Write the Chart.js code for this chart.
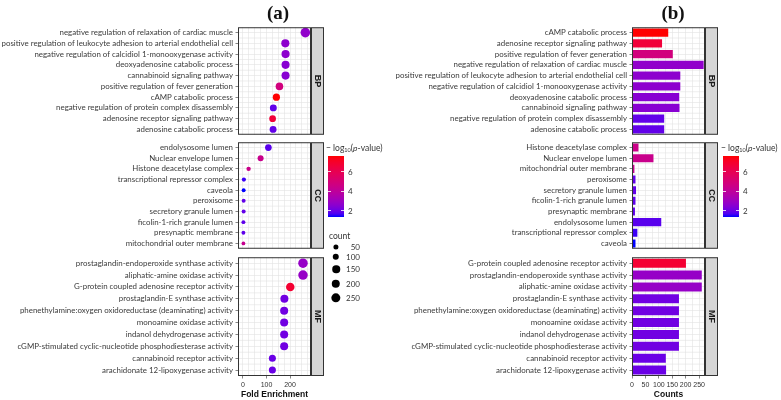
<!DOCTYPE html>
<html>
<head>
<meta charset="utf-8">
<script src="https://cdn.jsdelivr.net/npm/chart.js@4.4.1/dist/chart.umd.min.js"></script>
<style>
  body { margin: 0; background: #fff; }
  #wrap { position: relative; width: 781px; height: 400px; overflow: hidden;
          font-family: Lato, "Liberation Sans", Arial, sans-serif; color: #333; }
  canvas { position: absolute; }
  .txt { position: absolute; white-space: nowrap; z-index: 2; }
  .lab { font-size: 8px; transform: translateY(-50%); }
  .ttl { font-family: "Liberation Serif", serif; font-weight: bold; font-size: 19px; color: #111;
         transform: translate(-50%, -50%); }
  .bar { position: absolute; z-index: 2; }
  .dot { position: absolute; border-radius: 50%; background: #000; z-index: 2; transform: translate(-50%, -50%); }
  sub { font-size: 5.5px; vertical-align: -1px; }
</style>
</head>
<body>
<div id="wrap">
  <canvas id="aBP" width="324" height="122" style="left:0;top:20px"></canvas>
  <canvas id="aCC" width="324" height="121" style="left:0;top:135px"></canvas>
  <canvas id="aMF" width="324" height="150" style="left:0;top:250px"></canvas>
  <canvas id="bBP" width="362" height="122" style="left:356px;top:20px"></canvas>
  <canvas id="bCC" width="362" height="121" style="left:356px;top:135px"></canvas>
  <canvas id="bMF" width="362" height="150" style="left:356px;top:250px"></canvas>
</div>
<script>
// ---- data: terms in panel (b) order, with counts and -log10(p)
const bpTerms = [
  "cAMP catabolic process",
  "adenosine receptor signaling pathway",
  "positive regulation of fever generation",
  "negative regulation of relaxation of cardiac muscle",
  "positive regulation of leukocyte adhesion to arterial endothelial cell",
  "negative regulation of calcidiol 1-monooxygenase activity",
  "deoxyadenosine catabolic process",
  "cannabinoid signaling pathway",
  "negative regulation of protein complex disassembly",
  "adenosine catabolic process"
];
const bpCounts = [135, 112, 152, 267, 180, 180, 176, 177, 120, 120];
const bpLogP = [7.6, 6.6, 4.8, 2.7, 2.6, 2.6, 2.5, 2.5, 1.9, 1.9];

const ccTerms = [
  "Histone deacetylase complex",
  "Nuclear envelope lumen",
  "mitochondrial outer membrane",
  "peroxisome",
  "secretory granule lumen",
  "ficolin-1-rich granule lumen",
  "presynaptic membrane",
  "endolysosome lumen",
  "transcriptional repressor complex",
  "caveola"
];
const ccCounts = [24, 80, 9, 13, 15, 13, 11, 109, 20, 13];
const ccLogP = [4.5, 4.4, 4.3, 1.9, 1.9, 1.85, 1.85, 1.8, 1.55, 1.35];

const mfTerms = [
  "G-protein coupled adenosine receptor activity",
  "prostaglandin-endoperoxide synthase activity",
  "aliphatic-amine oxidase activity",
  "prostaglandin-E synthase activity",
  "phenethylamine:oxygen oxidoreductase (deaminating) activity",
  "monoamine oxidase activity",
  "indanol dehydrogenase activity",
  "cGMP-stimulated cyclic-nucleotide phosphodiesterase activity",
  "cannabinoid receptor activity",
  "arachidonate 12-lipoxygenase activity"
];
const mfCounts = [201, 260, 260, 175, 175, 175, 175, 175, 126, 127];
const mfLogP = [6.8, 2.8, 2.8, 2.1, 2.1, 2.1, 2.1, 2.1, 2.0, 2.0];

// ---- panel (a) order and fold enrichment
const bpTermsA = [
  "negative regulation of relaxation of cardiac muscle",
  "positive regulation of leukocyte adhesion to arterial endothelial cell",
  "negative regulation of calcidiol 1-monooxygenase activity",
  "deoxyadenosine catabolic process",
  "cannabinoid signaling pathway",
  "positive regulation of fever generation",
  "cAMP catabolic process",
  "negative regulation of protein complex disassembly",
  "adenosine receptor signaling pathway",
  "adenosine catabolic process"
];
const bpFoldA = [265, 180, 181, 181, 181, 155, 142, 129, 126, 128];

const ccTermsA = [
  "endolysosome lumen",
  "Nuclear envelope lumen",
  "Histone deacetylase complex",
  "transcriptional repressor complex",
  "caveola",
  "peroxisome",
  "secretory granule lumen",
  "ficolin-1-rich granule lumen",
  "presynaptic membrane",
  "mitochondrial outer membrane"
];
const ccFoldA = [108, 75, 24, 4, 3, 3, 3, 2, 2, 2];

const mfTermsA = [
  "prostaglandin-endoperoxide synthase activity",
  "aliphatic-amine oxidase activity",
  "G-protein coupled adenosine receptor activity",
  "prostaglandin-E synthase activity",
  "phenethylamine:oxygen oxidoreductase (deaminating) activity",
  "monoamine oxidase activity",
  "indanol dehydrogenase activity",
  "cGMP-stimulated cyclic-nucleotide phosphodiesterase activity",
  "cannabinoid receptor activity",
  "arachidonate 12-lipoxygenase activity"
];
const mfFoldA = [255, 255, 201, 176, 175, 175, 175, 175, 125, 125];

const foldTicks = [0, 100, 200];
const countTicks = [0, 50, 100, 150, 200, 250];
const pTicks = [2, 4, 6];
const sizeBreaks = [50, 100, 150, 200, 250];

// ---- scales for colour and size
const allLogP = [...bpLogP, ...ccLogP, ...mfLogP];
const allCounts = [...bpCounts, ...ccCounts, ...mfCounts];
const P_MIN = Math.min(...allLogP), P_MAX = Math.max(...allLogP);
const C_MIN = Math.min(...allCounts), C_MAX = Math.max(...allCounts);
const R_MIN = 1.9, R_MAX = 4.8;

function toLin(c) { c /= 255; return c <= 0.04045 ? c / 12.92 : Math.pow((c + 0.055) / 1.055, 2.4); }
function toSrgb(c) {
  c = c <= 0.0031308 ? 12.92 * c : 1.055 * Math.pow(Math.max(c, 0), 1 / 2.4) - 0.055;
  return Math.round(Math.max(0, Math.min(1, c)) * 255);
}
function rgbToLab(r, g, b) {
  const R = toLin(r), G = toLin(g), B = toLin(b);
  const X = (0.4124 * R + 0.3576 * G + 0.1805 * B) / 0.95047;
  const Y = 0.2126 * R + 0.7152 * G + 0.0722 * B;
  const Z = (0.0193 * R + 0.1192 * G + 0.9505 * B) / 1.08883;
  const f = t => t > 0.008856 ? Math.cbrt(t) : 7.787 * t + 16 / 116;
  const fx = f(X), fy = f(Y), fz = f(Z);
  return [116 * fy - 16, 500 * (fx - fy), 200 * (fy - fz)];
}
function labToRgb(L, a, b) {
  const fy = (L + 16) / 116, fx = fy + a / 500, fz = fy - b / 200;
  const inv = t => t * t * t > 0.008856 ? t * t * t : (t - 16 / 116) / 7.787;
  const X = inv(fx) * 0.95047, Y = inv(fy), Z = inv(fz) * 1.08883;
  const R = 3.2406 * X - 1.5372 * Y - 0.4986 * Z;
  const G = -0.9689 * X + 1.8758 * Y + 0.0415 * Z;
  const B = 0.0557 * X - 0.2040 * Y + 1.0570 * Z;
  return `rgb(${toSrgb(R)},${toSrgb(G)},${toSrgb(B)})`;
}
const LOW = rgbToLab(0, 0, 255), HIGH = rgbToLab(255, 0, 0);
function pColor(v) {
  const t = Math.max(0, Math.min(1, (v - P_MIN) / (P_MAX - P_MIN)));
  return labToRgb(LOW[0] + t * (HIGH[0] - LOW[0]), LOW[1] + t * (HIGH[1] - LOW[1]), LOW[2] + t * (HIGH[2] - LOW[2]));
}
function sizeR(c) {
  const t = Math.max(0, (c - C_MIN) / (C_MAX - C_MIN));
  return Math.sqrt(R_MIN * R_MIN + t * (R_MAX * R_MAX - R_MIN * R_MIN));
}

const lookup = {};
[[bpTerms, bpCounts, bpLogP], [ccTerms, ccCounts, ccLogP], [mfTerms, mfCounts, mfLogP]].forEach(([t, c, p]) => {
  t.forEach((name, i) => { lookup[name] = { count: c[i], logp: p[i] }; });
});

// size the term labels so the longest one spans the same width as in the figure
const FAMILY = "Lato, 'Liberation Sans', sans-serif";
function fitSize(text, target) {
  const c = document.createElement('canvas').getContext('2d');
  c.font = `10px ${FAMILY}`;
  return Math.round(10 * target / c.measureText(text).width * 10) / 10;
}
const labelSize = fitSize("positive regulation of leukocyte adhesion to arterial endothelial cell", 231);

// ---- shared styling
const GRID = '#e2e2e2';
const LABEL_FONT = { family: FAMILY, size: labelSize };
const NUM_FONT = { family: "'Liberation Sans', sans-serif", size: 7 };
const TITLE_FONT = { family: "'Liberation Sans', sans-serif", size: 8.5, weight: 'bold' };

// half-step grid lines, panel border and facet strip
const panelDeco = {
  id: 'panelDeco',
  beforeDatasetsDraw(chart) {
    const { ctx, chartArea: a } = chart;
    const ys = chart.scales.y;
    const n = ys.getLabels().length;
    ctx.save();
    ctx.strokeStyle = GRID;
    ctx.lineWidth = 0.6;
    for (let i = 1; i < n; i++) {
      const y = ys.getPixelForValue(i - 0.5);
      ctx.beginPath(); ctx.moveTo(a.left, y); ctx.lineTo(a.right, y); ctx.stroke();
    }
    ctx.restore();
  },
  afterDraw(chart, args, opts) {
    const { ctx, chartArea: a } = chart;
    const h = a.bottom - a.top;
    ctx.save();
    ctx.fillStyle = '#d6d6d6';
    ctx.fillRect(a.right, a.top, 13, h);
    ctx.strokeStyle = '#333';
    ctx.lineWidth = 1;
    ctx.strokeRect(a.left + 0.5, a.top + 0.5, a.right - a.left - 1, h - 1);
    ctx.strokeRect(a.right + 0.5, a.top + 0.5, 12, h - 1);
    ctx.translate(a.right + 6.5, a.top + h / 2);
    ctx.rotate(Math.PI / 2);
    ctx.fillStyle = '#1a1a1a';
    ctx.font = "bold 9px 'Liberation Sans', sans-serif";
    ctx.textAlign = 'center';
    ctx.textBaseline = 'middle';
    ctx.fillText(opts.strip, 0, 0);
    ctx.restore();
  }
};

function xScale(min, max, step, labelled, showX, title) {
  const grid = [];
  for (let v = 0; v <= max; v += step) grid.push(v);
  return {
    type: 'linear', min, max,
    afterBuildTicks: s => { s.ticks = grid.map(v => ({ value: v })); },
    afterFit: s => { s.height = showX ? 24 : 0; },
    ticks: {
      display: showX, autoSkip: false, maxRotation: 0, padding: 2,
      font: NUM_FONT, color: '#333',
      callback: v => labelled.includes(v) ? String(v) : ''
    },
    grid: {
      color: GRID, lineWidth: 0.6, drawTicks: showX, tickLength: 2.5,
      tickColor: c => (c.tick && labelled.includes(c.tick.value)) ? '#333' : 'rgba(0,0,0,0)'
    },
    border: { display: false },
    title: { display: showX, text: title, font: TITLE_FONT, color: '#111', padding: { top: 0, bottom: 0.6 } }
  };
}

function yScale(labels, width) {
  return {
    type: 'category', labels, offset: true,
    afterFit: s => { s.width = width; },
    ticks: { autoSkip: false, font: LABEL_FONT, color: '#3a3a3a', padding: 2.5 },
    grid: { color: GRID, lineWidth: 0.6, offset: false, tickLength: 2.5, tickColor: '#333' },
    border: { display: false }
  };
}

function baseOptions(strip, showX) {
  return {
    responsive: false, animation: false, events: [],
    layout: { padding: { top: 5, bottom: showX ? 0 : 5, left: 0, right: 13 } },
    plugins: { legend: { display: false }, tooltip: { enabled: false }, panelDeco: { strip } }
  };
}

function dotPanel(id, terms, folds, strip, showX) {
  const opts = baseOptions(strip, showX);
  opts.scales = {
    x: xScale(-21, 289, 25, foldTicks, showX, 'Fold Enrichment'),
    y: yScale(terms, 238)
  };
  new Chart(document.getElementById(id), {
    type: 'scatter',
    data: {
      datasets: [{
        data: terms.map((t, i) => ({ x: folds[i], y: t })),
        pointRadius: terms.map(t => sizeR(lookup[t].count)),
        backgroundColor: terms.map(t => pColor(lookup[t].logp)),
        borderWidth: 0
      }]
    },
    options: opts,
    plugins: [panelDeco]
  });
}

function barPanel(id, terms, counts, logp, strip, showX) {
  const opts = baseOptions(strip, showX);
  opts.indexAxis = 'y';
  opts.scales = {
    x: xScale(0, 272, 25, countTicks, showX, 'Counts'),
    y: yScale(terms, 276)
  };
  new Chart(document.getElementById(id), {
    type: 'bar',
    data: {
      labels: terms,
      datasets: [{
        data: counts,
        backgroundColor: logp.map(pColor),
        borderWidth: 0,
        barPercentage: 0.76,
        categoryPercentage: 1
      }]
    },
    options: opts,
    plugins: [panelDeco]
  });
}

dotPanel('aBP', bpTermsA, bpFoldA, 'BP', false);
dotPanel('aCC', ccTermsA, ccFoldA, 'CC', false);
dotPanel('aMF', mfTermsA, mfFoldA, 'MF', true);
barPanel('bBP', bpTerms, bpCounts, bpLogP, 'BP', false);
barPanel('bCC', ccTerms, ccCounts, ccLogP, 'CC', false);
barPanel('bMF', mfTerms, mfCounts, mfLogP, 'MF', true);

// ---- titles and legends (HTML)
const wrap = document.getElementById('wrap');
function add(cls, html, style) {
  const d = document.createElement('div');
  d.className = cls;
  d.innerHTML = html;
  Object.assign(d.style, style);
  wrap.appendChild(d);
  return d;
}
add('txt ttl', '(a)', { left: '278px', top: '13px' });
add('txt ttl', '(b)', { left: '673px', top: '13px' });

function colorLegend(x) {
  const top = 156, h = 61, w = 16;
  add('txt lab', '&minus; log<sub>10</sub>(<i>p</i>-value)', { left: (x - 2) + 'px', top: '148px', fontSize: '8.5px' });
  const stops = [];
  for (let i = 0; i <= 20; i++) stops.push(pColor(P_MIN + (P_MAX - P_MIN) * i / 20));
  add('bar', '', { left: x + 'px', top: top + 'px', width: w + 'px', height: h + 'px',
                   background: `linear-gradient(to top, ${stops.join(',')})` });
  pTicks.forEach(v => {
    const y = top + h - (v - P_MIN) / (P_MAX - P_MIN) * h;
    add('bar', '', { left: x + 'px', top: (y - 0.5) + 'px', width: '3px', height: '1px', background: 'rgba(255,255,255,0.8)' });
    add('bar', '', { left: (x + w - 3) + 'px', top: (y - 0.5) + 'px', width: '3px', height: '1px', background: 'rgba(255,255,255,0.8)' });
    add('txt lab', String(v), { left: (x + w + 4) + 'px', top: y + 'px' });
  });
}
colorLegend(328);
colorLegend(723);

add('txt lab', 'count', { left: '329px', top: '236px', fontSize: '8.5px' });
const sizeY = [247, 257, 269, 284, 298];
sizeBreaks.forEach((c, i) => {
  const r = sizeR(c);
  add('dot', '', { left: '336px', top: sizeY[i] + 'px', width: (2 * r) + 'px', height: (2 * r) + 'px' });
  add('txt lab', String(c), { left: '346px', top: sizeY[i] + 'px', width: '14px', textAlign: 'right' });
});
</script>
</body>
</html>
